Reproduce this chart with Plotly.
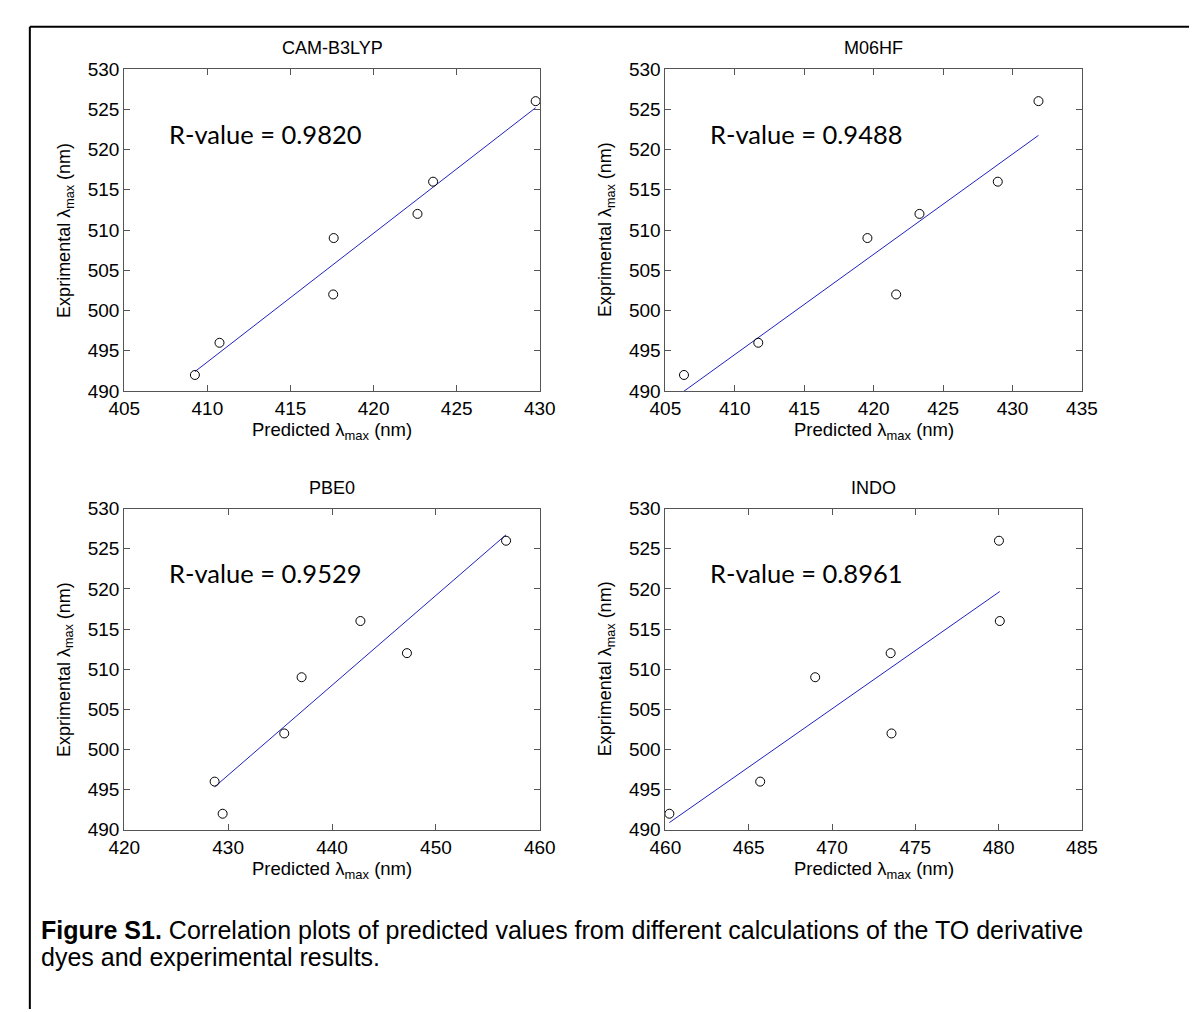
import numpy as np
import plotly.graph_objects as go

W, H = 1197, 1012

methods = ["CAM-B3LYP", "M06HF", "PBE0", "INDO"]
r_values = ["0.9820", "0.9488", "0.9529", "0.8961"]

experimental = [492, 496, 502, 509, 512, 516, 526]
pred_cam = [409.25, 410.73, 417.57, 417.60, 422.64, 423.58, 429.75]
pred_m06 = [406.34, 411.69, 421.62, 419.55, 423.30, 428.94, 431.87]
pred_pbe = [429.47, 428.70, 435.40, 437.07, 447.21, 442.73, 456.75]
pred_indo = [460.24, 465.69, 473.57, 468.99, 473.52, 480.07, 480.02]
predicted = [pred_cam, pred_m06, pred_pbe, pred_indo]

x_ranges = [[405, 430], [405, 435], [420, 460], [460, 485]]
x_dticks = [5, 5, 10, 5]
y_range = [490, 530]

caption_bold = "Figure S1."
caption_1 = " Correlation plots of predicted values from different calculations of the TO derivative"
caption_2 = "dyes and experimental results."

# panel boxes in pixels: (left, right, top, bottom)
boxes = [(103, 530, 52, 381), (659, 1087, 52, 381),
         (103, 530, 501, 829), (659, 1087, 501, 829)]

AX_FONT = "Liberation Sans, Arial, sans-serif"

fig = go.Figure()
annotations = []
for i, (m, r, px, box) in enumerate(zip(methods, r_values, predicted, boxes)):
    n = "" if i == 0 else str(i + 1)
    L, R, T, B = box
    xd = [L / W, R / W]
    yd = [1 - B / H, 1 - T / H]
    common = dict(ticks="inside", ticklen=6, tickcolor="#555", linecolor="#555",
                  linewidth=1, mirror="ticks", showgrid=False, zeroline=False,
                  tickfont=dict(family=AX_FONT, size=19, color="black"),
                  fixedrange=True, tick0=0)
    xa = dict(domain=xd, range=x_ranges[i], dtick=x_dticks[i],
              anchor="y" + n, **common)
    ya = dict(domain=yd, range=y_range, dtick=5, anchor="x" + n, **common)
    fig.update_layout(**{"xaxis" + n: xa, "yaxis" + n: ya})

    xs = np.array(px)
    ys = np.array(experimental)
    k, b = np.polyfit(xs, ys, 1)
    lx = np.array([xs.min(), xs.max()])
    fig.add_trace(go.Scatter(x=lx, y=k * lx + b, mode="lines",
                             line=dict(color="#2020c0", width=1),
                             xaxis="x" + n, yaxis="y" + n, showlegend=False,
                             hoverinfo="skip"))
    fig.add_trace(go.Scatter(x=px, y=experimental, mode="markers",
                             marker=dict(symbol="circle-open", size=9,
                                         color="black", line=dict(width=1)),
                             xaxis="x" + n, yaxis="y" + n, showlegend=False,
                             cliponaxis=False))

    cx = (L + R) / 2
    # title
    annotations.append(dict(text=m, x=cx / W, y=1 - (T - 21) / H, xref="paper",
                            yref="paper", showarrow=False,
                            font=dict(family=AX_FONT, size=18, color="black"),
                            xanchor="center", yanchor="middle"))
    # x label
    annotations.append(dict(text="Predicted λ<sub>max</sub> (nm)", x=cx / W,
                            y=1 - (B + 41) / H, xref="paper", yref="paper",
                            showarrow=False,
                            font=dict(family=AX_FONT, size=18.5, color="black"),
                            xanchor="center", yanchor="middle"))
    # y label
    annotations.append(dict(text="Exprimental λ<sub>max</sub> (nm)",
                            x=(L - 61) / W, y=1 - ((T + B) / 2) / H,
                            xref="paper", yref="paper", showarrow=False,
                            textangle=-90,
                            font=dict(family=AX_FONT, size=18, color="black"),
                            xanchor="center", yanchor="middle"))
    # R-value
    annotations.append(dict(text="R-value = " + r, x=(L + 44) / W,
                            y=1 - (T + 66) / H, xref="paper", yref="paper",
                            showarrow=False,
                            font=dict(family="Lato, Open Sans, sans-serif",
                                      size=25.5, color="black"),
                            xanchor="left", yanchor="middle"))

annotations.append(dict(text="<b>" + caption_bold + "</b>" + caption_1,
                        x=15 / W, y=1 - 931 / H, xref="paper", yref="paper",
                        showarrow=False, xanchor="left", yanchor="middle",
                        font=dict(family=AX_FONT, size=25, color="black")))
annotations.append(dict(text=caption_2, x=15 / W, y=1 - 959 / H, xref="paper",
                        yref="paper", showarrow=False, xanchor="left",
                        yanchor="middle",
                        font=dict(family=AX_FONT, size=25, color="black")))

shapes = [
    dict(type="line", xref="paper", yref="paper", x0=6 / W, x1=1.0,
         y0=1 - 9 / H, y1=1 - 9 / H, line=dict(color="black", width=2)),
    dict(type="line", xref="paper", yref="paper", x0=6 / W, x1=6 / W,
         y0=0, y1=1 - 9 / H, line=dict(color="black", width=2)),
]

fig.update_layout(width=W, height=H, margin=dict(l=0, r=0, t=0, b=0),
                  paper_bgcolor="white", plot_bgcolor="white",
                  annotations=annotations, shapes=shapes, showlegend=False)

fig.write_html("out.html")
